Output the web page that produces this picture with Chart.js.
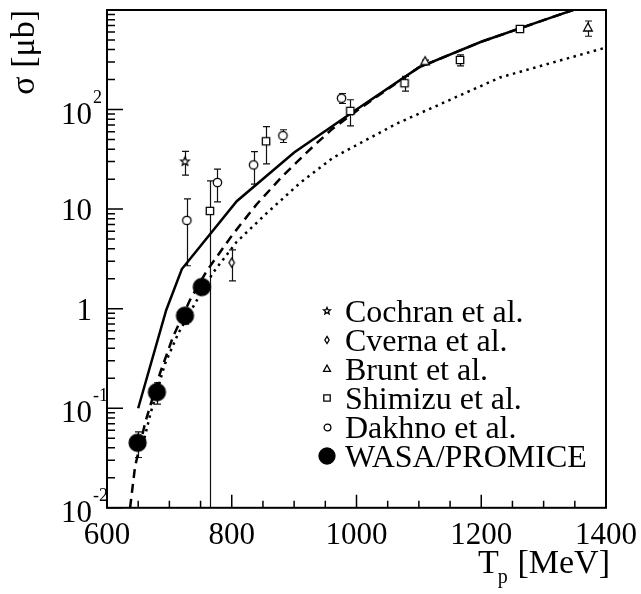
<!DOCTYPE html>
<html>
<head>
<meta charset="utf-8">
<script src="https://cdn.jsdelivr.net/npm/chart.js@4.4.1/dist/chart.umd.min.js"></script>
<style>
  body { margin: 0; background: #fff; }
  canvas { display: block; }
</style>
</head>
<body>
<canvas id="xsec" width="641" height="594"></canvas>
<script>
// theory curves, T_p in MeV, sigma in microbarn
const solidT = [650, 695, 720, 808, 900, 1000, 1100, 1200, 1300, 1400];
const solidSigma = [0.1, 0.97, 2.5, 12, 37, 100, 265, 480, 790, 1300];

const dashedT = [637, 645, 661, 685, 706, 733, 760, 800, 840, 880, 920, 960, 1000, 1100, 1200, 1300, 1400];
const dashedSigma = [0.01, 0.026, 0.071, 0.225, 0.525, 1.22, 2.4, 5.4, 11.2, 21, 37, 63, 97, 265, 480, 790, 1300];

const dottedT = [660, 670, 693, 714, 740, 770, 808, 856, 909, 963, 1064, 1230, 1400];
const dottedSigma = [0.05, 0.09, 0.28, 0.56, 1.1, 2.3, 4.7, 9.1, 18.2, 33, 72, 210, 420];

// measurements: energy, value, error
const cochranT = [725];
const cochranSigma = [30];
const cochranErr = [8];

const cvernaT = [800];
const cvernaSigma = [2.9];
const cvernaErr = [1];

const bruntT = [1110, 1371];
const bruntSigma = [303, 660];
const bruntErr = [10, 115];

const shimizuT = [765, 855, 990, 1077, 1166, 1262];
const shimizuSigma = [9.6, 48, 97, 184, 315, 645];
const shimizuErr = [9.6, 19.5, 28.5, 31, 40, 20];

const dakhnoT = [728, 777, 835, 882, 976];
const dakhnoSigma = [7.7, 18.5, 27.8, 54.7, 130];
const dakhnoErr = [5, 6.7, 10, 8, 15];

const wasaT = [649, 680, 725, 752];
const wasaSigma = [0.045, 0.145, 0.85, 1.65];
const wasaErr = [0.013, 0.035, 0.15, 0.25];

const xTickValues = [600, 800, 1000, 1200, 1400];
const yTickValues = [0.01, 0.1, 1, 10, 100];
const yTickBase = ['10', '10', '1', '10', '10'];
const yTickExp = ['-2', '-1', '', '', '2'];

const SERIF = "'Liberation Serif', 'Times New Roman', serif";

function pts(xs, ys) {
  return xs.map((v, i) => ({ x: v, y: ys[i] }));
}

// open markers drawn once into small canvases
function marker(shape, r) {
  const s = Math.ceil(2 * r + 4);
  const c = document.createElement('canvas');
  c.width = s; c.height = s;
  const g = c.getContext('2d');
  const m = s / 2;
  g.lineWidth = 1.3;
  g.strokeStyle = '#000';
  g.fillStyle = '#fff';
  g.beginPath();
  if (shape === 'star') {
    for (let k = 0; k < 10; k++) {
      const rr = k % 2 ? r * 0.45 : r;
      const t = -Math.PI / 2 + k * Math.PI / 5;
      g.lineTo(m + rr * Math.cos(t), m + rr * Math.sin(t));
    }
    g.closePath();
  } else if (shape === 'diamond') {
    g.moveTo(m, m - r); g.lineTo(m + r * 0.6, m); g.lineTo(m, m + r); g.lineTo(m - r * 0.6, m);
    g.closePath();
  } else if (shape === 'triangle') {
    g.moveTo(m, m - r); g.lineTo(m + r * 0.87, m + r * 0.6); g.lineTo(m - r * 0.87, m + r * 0.6);
    g.closePath();
  } else if (shape === 'square') {
    g.rect(m - r * 0.8, m - r * 0.8, r * 1.6, r * 1.6);
  } else if (shape === 'dot') {
    g.fillStyle = '#000';
    g.arc(m, m, r, 0, 2 * Math.PI);
  } else {
    g.arc(m, m, r, 0, 2 * Math.PI);
  }
  g.fill();
  g.stroke();
  return c;
}

function series(label, xs, ys, errs, shape, r, legendR) {
  return {
    label: label,
    data: pts(xs, ys),
    errors: errs,
    showLine: false,
    pointStyle: marker(shape, r),
    legendMarker: marker(shape, legendR),
    pointRadius: r,
    order: 0
  };
}

function curve(xs, ys, dash) {
  return {
    data: pts(xs, ys),
    showLine: true,
    borderColor: '#000',
    borderWidth: 2.5,
    borderDash: dash,
    pointRadius: 0,
    fill: false,
    tension: 0,
    order: 1
  };
}

const errorBars = {
  id: 'errorBars',
  beforeDatasetsDraw(chart) {
    const { ctx, chartArea: a, scales: { x, y } } = chart;
    ctx.save();
    ctx.beginPath();
    ctx.rect(a.left, a.top, a.right - a.left, a.bottom - a.top);
    ctx.clip();
    ctx.strokeStyle = '#111';
    ctx.lineWidth = 1.2;
    chart.data.datasets.forEach(ds => {
      if (!ds.errors) return;
      ds.data.forEach((p, i) => {
        const e = ds.errors[i];
        const px = Math.round(x.getPixelForValue(p.x)) + 0.5;
        const top = y.getPixelForValue(p.y + e);
        const lo = p.y - e;
        const bot = lo > y.min ? y.getPixelForValue(lo) : a.bottom;
        ctx.beginPath();
        ctx.moveTo(px, top); ctx.lineTo(px, bot);
        ctx.moveTo(px - 3.5, top); ctx.lineTo(px + 3.5, top);
        if (lo > y.min) { ctx.moveTo(px - 3.5, bot); ctx.lineTo(px + 3.5, bot); }
        ctx.stroke();
      });
    });
    ctx.restore();
  }
};

const frame = {
  id: 'frame',
  afterDraw(chart) {
    const { ctx, chartArea: a, scales: { x, y } } = chart;
    ctx.save();
    ctx.strokeStyle = '#000';
    ctx.lineWidth = 1.5;
    ctx.beginPath();
    for (let v = x.min; v <= x.max; v += 50) {
      const px = x.getPixelForValue(v);
      const len = v % 200 === 0 ? 13 : 7;
      ctx.moveTo(px, a.bottom); ctx.lineTo(px, a.bottom - len);
    }
    for (let d = -2; d < 3; d++) {
      for (let m = 1; m <= 9; m++) {
        const py = y.getPixelForValue(m * Math.pow(10, d));
        ctx.moveTo(a.left, py); ctx.lineTo(a.left + (m === 1 ? 16 : 8), py);
      }
    }
    ctx.stroke();
    ctx.lineWidth = 2;
    ctx.strokeRect(a.left, a.top, a.right - a.left, a.bottom - a.top);

    // y tick labels with exponents
    ctx.fillStyle = '#000';
    ctx.textBaseline = 'alphabetic';
    yTickValues.forEach((v, i) => {
      const py = y.getPixelForValue(v);
      const exp = yTickExp[i];
      ctx.font = '31px ' + SERIF;
      ctx.textAlign = 'right';
      ctx.fillText(yTickBase[i], 92, py + (exp ? 14 : 11));
      if (exp) {
        ctx.font = '18px ' + SERIF;
        ctx.textAlign = 'left';
        ctx.fillText(exp, 93, py - 7);
      }
    });

    // axis titles
    ctx.font = '34px ' + SERIF;
    ctx.textAlign = 'left';
    ctx.fillText('T', 478, 573);
    const wT = ctx.measureText('T').width;
    ctx.textAlign = 'right';
    ctx.fillText('[MeV]', 610, 573);
    ctx.font = '20px ' + SERIF;
    ctx.textAlign = 'left';
    ctx.fillText('p', 478 + wT - 1, 583);

    ctx.save();
    ctx.translate(25, 10);
    ctx.rotate(-Math.PI / 2);
    ctx.font = '34px ' + SERIF;
    ctx.textAlign = 'right';
    ctx.textBaseline = 'middle';
    ctx.fillText('\u03c3 [\u03bcb]', 0, 0);
    ctx.restore();

    // legend
    let row = 0;
    ctx.font = '32px ' + SERIF;
    ctx.textAlign = 'left';
    ctx.textBaseline = 'alphabetic';
    chart.data.datasets.forEach(ds => {
      if (!ds.legendMarker) return;
      const cy = 311 + row * 29;
      const mk = ds.legendMarker;
      ctx.drawImage(mk, Math.round(327 - mk.width / 2), Math.round(cy - mk.height / 2));
      ctx.fillText(ds.label, 345, cy + 11);
      row++;
    });
    ctx.restore();
  }
};

new Chart(document.getElementById('xsec'), {
  type: 'scatter',
  data: {
    datasets: [
      series('Cochran et al.', cochranT, cochranSigma, cochranErr, 'star', 4.5, 3.6),
      series('Cverna et al.', cvernaT, cvernaSigma, cvernaErr, 'diamond', 4.5, 3.6),
      series('Brunt et al.', bruntT, bruntSigma, bruntErr, 'triangle', 5, 4),
      series('Shimizu et al.', shimizuT, shimizuSigma, shimizuErr, 'square', 4.6, 4),
      series('Dakhno et al.', dakhnoT, dakhnoSigma, dakhnoErr, 'circle', 4.2, 3.4),
      series('WASA/PROMICE', wasaT, wasaSigma, wasaErr, 'dot', 8.5, 8),
      curve(solidT, solidSigma, []),
      curve(dashedT, dashedSigma, [9, 6]),
      curve(dottedT, dottedSigma, [2.5, 4.5])
    ]
  },
  options: {
    responsive: false,
    animation: false,
    events: [],
    layout: { padding: { left: 107, right: 35, top: 10, bottom: 31 } },
    plugins: {
      legend: { display: false },
      tooltip: { enabled: false }
    },
    scales: {
      x: {
        type: 'linear',
        min: 600,
        max: 1400,
        grid: { display: false, drawTicks: false },
        border: { display: false },
        afterFit: scale => { scale.paddingLeft = 0; scale.paddingRight = 0; },
        ticks: {
          stepSize: 50,
          autoSkip: false,
          maxRotation: 0,
          padding: 9,
          color: '#000',
          font: { family: SERIF, size: 31 },
          callback: v => xTickValues.includes(v) ? String(v) : ''
        }
      },
      y: {
        type: 'logarithmic',
        min: 0.01,
        max: 1000,
        display: false
      }
    }
  },
  plugins: [errorBars, frame]
});
</script>
</body>
</html>
